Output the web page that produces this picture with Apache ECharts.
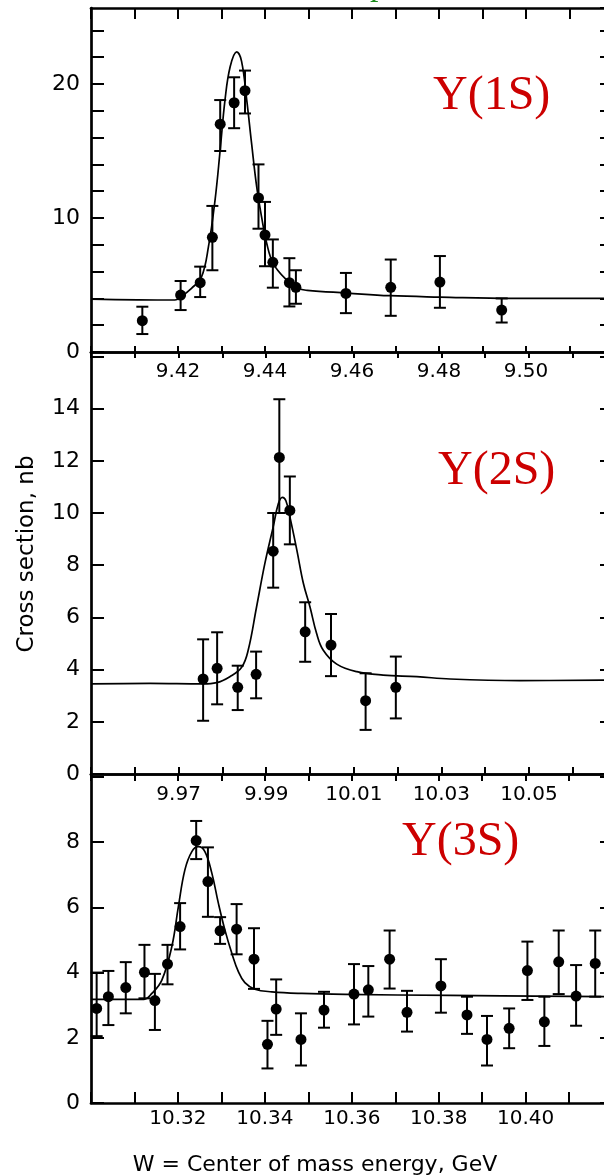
<!DOCTYPE html>
<html>
<head>
<meta charset="utf-8">
<script src="https://cdn.jsdelivr.net/npm/echarts@6/dist/echarts.min.js"></script>
<style>
html,body{margin:0;padding:0;background:#fff;}
#chart{width:604px;height:1176px;}
</style>
</head>
<body>
<div id="chart"></div>
<script>
// ---------- Panel 1 : Y(1S) ----------
const X1 = [9.4118, 9.4206, 9.4251, 9.4279, 9.4297, 9.4329, 9.4354, 9.4385, 9.4400, 9.4418, 9.4456, 9.4471, 9.4586, 9.4689, 9.4802, 9.4944];
const Y1 = [2.34, 4.25, 5.17, 8.56, 17.0, 18.6, 19.5, 11.5, 8.73, 6.69, 5.17, 4.83, 4.37, 4.83, 5.22, 3.13];
const Y1_HI = [3.38, 5.3, 6.37, 10.9, 18.8, 20.5, 21.0, 14.0, 11.2, 8.4, 7.0, 6.1, 5.9, 6.9, 7.16, 4.0];
const Y1_LO = [1.34, 3.13, 4.1, 6.1, 15.0, 16.7, 17.8, 9.2, 6.4, 4.8, 3.4, 3.6, 2.9, 2.7, 3.3, 2.2];
const FIT1_X = [9.400, 9.4193, 9.4206, 9.4231, 9.4254, 9.4270, 9.4285, 9.4297, 9.4308, 9.4320, 9.4335, 9.4346, 9.4358, 9.4369, 9.4381, 9.4392, 9.4404, 9.4419, 9.4446, 9.4477, 9.4497, 9.4589, 9.4687, 9.4802, 9.4970, 9.5193];
const FIT1_Y = [3.95, 3.88, 4.1, 4.75, 5.6, 7.86, 11.3, 15.1, 18.8, 21.3, 22.4, 21.7, 18.8, 15.6, 12.3, 10.1, 8.1, 6.6, 5.5, 4.75, 4.6, 4.4, 4.2, 4.1, 4.0, 4.0];
const XLAB1 = ['9.42', '9.44', '9.46', '9.48', '9.50'];
const YLAB1 = ['0', '10', '20'];

// ---------- Panel 2 : Y(2S) ----------
const X2 = [9.9756, 9.9788, 9.9835, 9.9877, 9.9916, 9.9930, 9.9954, 9.9989, 10.0048, 10.0127, 10.0196];
const Y2 = [3.64, 4.05, 3.32, 3.82, 8.54, 12.13, 10.1, 5.45, 4.94, 2.81, 3.32];
const Y2_HI = [5.16, 5.43, 4.15, 4.69, 10.0, 14.36, 11.4, 6.58, 6.13, 3.86, 4.5];
const Y2_LO = [2.04, 2.67, 2.45, 2.9, 7.14, 10.0, 8.8, 4.3, 3.75, 1.69, 2.13];
const FIT2_X = [9.95, 9.9635, 9.9756, 9.9787, 9.9817, 9.9844, 9.9859, 9.9878, 9.9897, 9.9916, 9.9928, 9.9937, 9.9945, 9.9954, 9.9970, 9.9985, 10.0000, 10.0015, 10.0030, 10.0061, 10.0107, 10.0167, 10.0244, 10.0320, 10.0479, 10.0685];
const FIT2_Y = [3.45, 3.47, 3.45, 3.5, 3.73, 4.09, 4.75, 6.4, 8.07, 9.47, 10.37, 10.6, 10.47, 9.86, 8.58, 7.3, 6.4, 5.39, 4.75, 4.21, 3.92, 3.79, 3.73, 3.64, 3.58, 3.6];
const XLAB2 = ['9.97', '9.99', '10.01', '10.03', '10.05'];
const YLAB2 = ['0', '2', '4', '6', '8', '10', '12', '14'];

// ---------- Panel 3 : Y(3S) ----------
const X3 = [10.3013, 10.3040, 10.3080, 10.3123, 10.3147, 10.3176, 10.3205, 10.3242, 10.3269, 10.3297, 10.3335, 10.3375, 10.3406, 10.3426, 10.3483, 10.3536, 10.3605, 10.3638, 10.3687, 10.3727, 10.3805, 10.3865, 10.3911, 10.3962, 10.4004, 10.4043, 10.4076, 10.4116, 10.4160];
const Y3 = [2.9, 3.26, 3.54, 4.01, 3.14, 4.26, 5.41, 8.05, 6.79, 5.28, 5.33, 4.41, 1.8, 2.88, 1.95, 2.85, 3.34, 3.47, 4.41, 2.78, 3.59, 2.7, 1.95, 2.29, 4.06, 2.49, 4.33, 3.28, 4.28];
const Y3_HI = [4.0, 4.05, 4.32, 4.85, 3.96, 4.85, 6.13, 8.65, 7.84, 5.7, 6.1, 5.36, 2.52, 3.79, 2.75, 3.41, 4.26, 4.2, 5.29, 3.44, 4.41, 3.26, 2.67, 2.9, 4.95, 3.26, 5.29, 4.23, 5.29];
const Y3_LO = [2.05, 2.39, 2.75, 3.21, 2.24, 3.64, 4.71, 7.48, 5.71, 4.88, 4.56, 3.5, 1.06, 2.09, 1.15, 2.31, 2.41, 2.65, 3.51, 2.19, 2.77, 2.12, 1.15, 1.68, 3.16, 1.75, 3.34, 2.37, 3.26];
const FIT3_X = [10.300, 10.3122, 10.3140, 10.3163, 10.3186, 10.3201, 10.3216, 10.3232, 10.3247, 10.3262, 10.3278, 10.3293, 10.3308, 10.3324, 10.3339, 10.3354, 10.3377, 10.3416, 10.3485, 10.3585, 10.3826, 10.4194];
const FIT3_Y = [3.18, 3.18, 3.36, 3.77, 4.8, 6.02, 7.15, 7.71, 7.86, 7.71, 7.05, 6.13, 5.31, 4.59, 4.03, 3.69, 3.49, 3.41, 3.36, 3.33, 3.3, 3.26];
const XLAB3 = ['10.32', '10.34', '10.36', '10.38', '10.40'];
const YLAB3 = ['0', '2', '4', '6', '8'];

const PANEL_NAMES = ['Y(1S)', 'Y(2S)', 'Y(3S)'];
const X_TITLE = 'W = Center of mass energy, GeV';
const Y_TITLE = 'Cross section, nb';

// ---------- layout ----------
const panels = [
  {xs: X1, ys: Y1, hi: Y1_HI, lo: Y1_LO, fx: FIT1_X, fy: FIT1_Y, xl: XLAB1, yl: YLAB1,
   xmin: 9.40, xmax: 9.5193, ymax: 25.67, yint: 2, top: 8, height: 344, topTick: 11, botTick: 6, labMargin: 10},
  {xs: X2, ys: Y2, hi: Y2_HI, lo: Y2_LO, fx: FIT2_X, fy: FIT2_Y, xl: XLAB2, yl: YLAB2,
   xmin: 9.95, xmax: 10.0685, ymax: 16.17, yint: 2, top: 352, height: 422, topTick: 6, botTick: 7, labMargin: 11},
  {xs: X3, ys: Y3, hi: Y3_HI, lo: Y3_LO, fx: FIT3_X, fy: FIT3_Y, xl: XLAB3, yl: YLAB3,
   xmin: 10.30, xmax: 10.4194, ymax: 10.09, yint: 2, top: 774, height: 329, topTick: 7, botTick: 11, labMargin: 6}
];

const FONT = 'DejaVu Sans';
const lineStyle = {color: '#000', width: 2.7};
const tickStyle = {color: '#000', width: 2};

const grids = [], xAxes = [], yAxes = [], series = [];

function errRender(params, api) {
  const x = api.value(0), lo = api.value(2), hi = api.value(3);
  const a = api.coord([x, hi]), b = api.coord([x, lo]);
  const w = 6;
  const st = {stroke: '#000', lineWidth: 2};
  return {type: 'group', children: [
    {type: 'line', shape: {x1: a[0], y1: a[1], x2: b[0], y2: b[1]}, style: st},
    {type: 'line', shape: {x1: a[0] - w, y1: a[1], x2: a[0] + w, y2: a[1]}, style: st},
    {type: 'line', shape: {x1: b[0] - w, y1: b[1], x2: b[0] + w, y2: b[1]}, style: st}
  ]};
}

panels.forEach((p, i) => {
  grids.push({left: 91, width: 519, top: p.top, height: p.height, outerBoundsMode: 'none', containLabel: false});
  xAxes.push({
    type: 'value', gridIndex: i, position: 'bottom', min: p.xmin, max: p.xmax, interval: 0.01,
    axisLine: {show: true, onZero: false, lineStyle: lineStyle},
    axisTick: {show: true, inside: true, length: p.botTick, lineStyle: tickStyle},
    axisLabel: {show: true, margin: p.labMargin, color: '#000', fontSize: 20, fontFamily: FONT,
      formatter: v => { const s = v.toFixed(2); return p.xl.includes(s) ? s : ''; }},
    splitLine: {show: false}
  });
  xAxes.push({
    type: 'value', gridIndex: i, position: 'top', min: p.xmin, max: p.xmax, interval: 0.01,
    axisLine: {show: true, onZero: false, lineStyle: lineStyle},
    axisTick: {show: true, inside: true, length: p.topTick, lineStyle: tickStyle},
    axisLabel: {show: false}, splitLine: {show: false}
  });
  yAxes.push({
    type: 'value', gridIndex: i, position: 'left', min: 0, max: p.ymax, interval: p.yint,
    axisLine: {show: true, onZero: false, lineStyle: lineStyle},
    axisTick: {show: true, inside: true, length: 13, lineStyle: tickStyle},
    axisLabel: {show: true, margin: 11, color: '#000', fontSize: 22, fontFamily: FONT, showMaxLabel: false,
      formatter: v => { const s = String(+v.toFixed(3)); return p.yl.includes(s) ? s : ''; }},
    splitLine: {show: false}
  });
  yAxes.push({
    type: 'value', gridIndex: i, position: 'right', min: 0, max: p.ymax, interval: p.yint,
    axisLine: {show: true, onZero: false, lineStyle: lineStyle},
    axisTick: {show: true, inside: true, length: 10, lineStyle: tickStyle},
    axisLabel: {show: false}, splitLine: {show: false}
  });
  series.push({
    type: 'line', xAxisIndex: 2 * i, yAxisIndex: 2 * i,
    data: p.fx.map((x, k) => [x, p.fy[k]]),
    showSymbol: false, smooth: 0.4,
    lineStyle: {color: '#000', width: 1.7}, silent: true, z: 2
  });
  series.push({
    type: 'custom', xAxisIndex: 2 * i, yAxisIndex: 2 * i,
    data: p.xs.map((x, k) => [x, p.ys[k], p.lo[k], p.hi[k]]),
    encode: {x: 0, y: 1}, renderItem: errRender, silent: true, z: 3
  });
  series.push({
    type: 'scatter', xAxisIndex: 2 * i, yAxisIndex: 2 * i,
    data: p.xs.map((x, k) => [x, p.ys[k]]),
    symbol: 'circle', symbolSize: 11, itemStyle: {color: '#000', opacity: 1}, silent: true, z: 4
  });
});

const labelPos = [[433, 96], [438, 471], [402, 842]];
const graphic = PANEL_NAMES.map((t, i) => ({
  type: 'text', x: labelPos[i][0], y: labelPos[i][1], z: 10,
  style: {text: t, fill: '#cc0000', font: '48px "Liberation Serif"', align: 'left', verticalAlign: 'middle'}
}));
graphic.push({
  type: 'text', x: 315, y: 1165, z: 10,
  style: {text: X_TITLE, fill: '#000', font: '22px "DejaVu Sans"', align: 'center', verticalAlign: 'middle'}
});
graphic.push({
  type: 'text', x: 27, y: 554, rotation: Math.PI / 2, z: 10,
  style: {text: Y_TITLE, fill: '#000', font: '23px "DejaVu Sans"', align: 'center', verticalAlign: 'middle'}
});
graphic.push({
  type: 'text', x: 370, y: 3, z: 10,
  style: {text: 'p', fill: '#1e8c1e', font: '34px "Liberation Serif"', align: 'left', verticalAlign: 'bottom'}
});

const chart = echarts.init(document.getElementById('chart'), null, {renderer: 'canvas'});
chart.setOption({
  animation: false,
  backgroundColor: '#fff',
  grid: grids, xAxis: xAxes, yAxis: yAxes, series: series, graphic: graphic
});
</script>
</body>
</html>
